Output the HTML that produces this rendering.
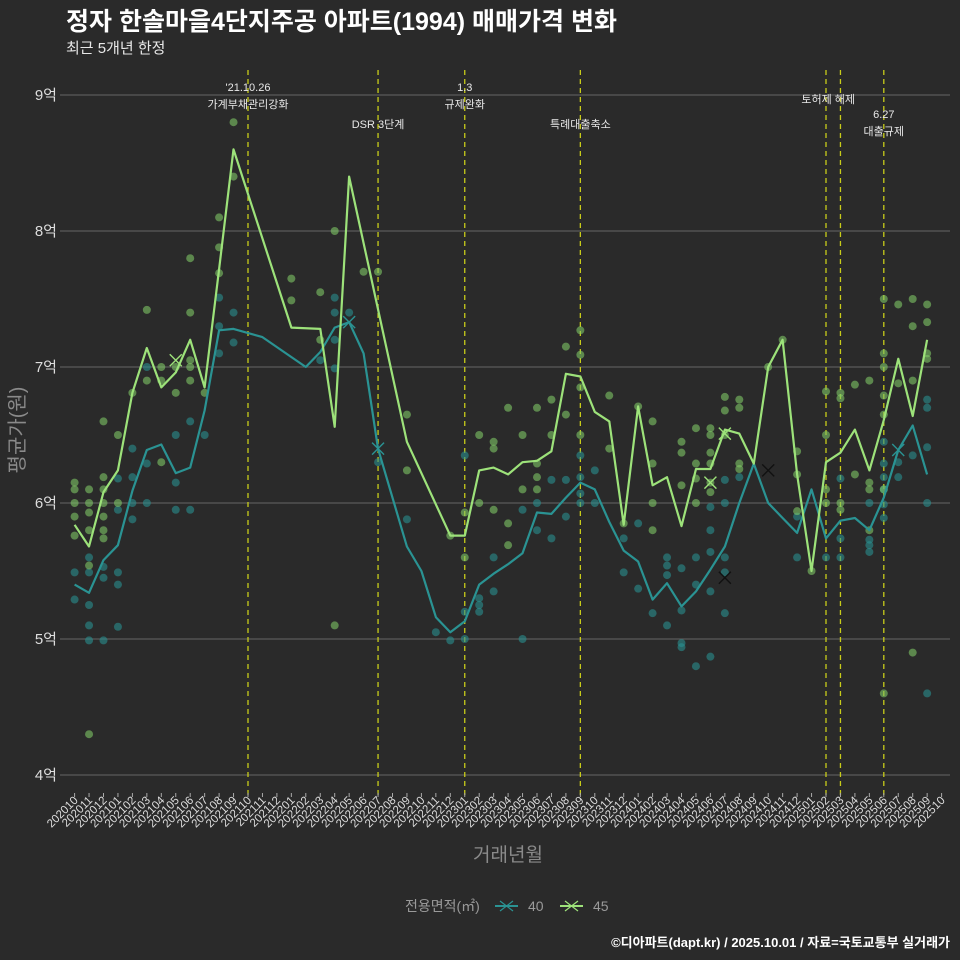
<!DOCTYPE html>
<html><head><meta charset="utf-8"><style>
html,body{margin:0;padding:0;background:#2a2a2a;}
svg{display:block;font-family:"Liberation Sans","Noto Sans CJK KR",sans-serif;}
</style></head><body>
<svg id="chart" width="960" height="960" viewBox="0 0 960 960" xmlns="http://www.w3.org/2000/svg">
<rect width="960" height="960" fill="#2a2a2a"/>
<text x="66" y="30" fill="#ffffff" font-size="25" font-weight="bold">정자 한솔마을4단지주공 아파트(1994) 매매가격 변화</text>
<text x="66" y="53" fill="#e8e8e8" font-size="15">최근 5개년 한정</text>
<g id="grid"></g><g id="vlines"></g><g id="dots"></g><g id="lines"></g><g id="xaxis"></g><g id="yaxis"></g><g id="notes"></g>
<text transform="translate(24,430) rotate(-90)" text-anchor="middle" fill="#8a8a8a" font-size="20">평균가(원)</text>
<text x="508" y="861" text-anchor="middle" fill="#8a8a8a" font-size="19">거래년월</text>
<g>
<text x="405" y="911" fill="#9a9a9a" font-size="14">전용면적(㎡)</text>
<g><line x1="495" y1="906" x2="518" y2="906" stroke="#2a9393" stroke-width="2"/><path d="M500 901 L513 911 M513 901 L500 911" stroke="#2a9393" stroke-width="1.2"/><text x="528" y="911" fill="#9a9a9a" font-size="14">40</text></g>
<g><line x1="560" y1="906" x2="583" y2="906" stroke="#9de27a" stroke-width="2"/><path d="M565 901 L578 911 M578 901 L565 911" stroke="#9de27a" stroke-width="1.2"/><text x="593" y="911" fill="#9a9a9a" font-size="14">45</text></g>
</g>
<text x="950" y="947" text-anchor="end" fill="#ffffff" font-size="13" font-weight="bold">©디아파트(dapt.kr) / 2025.10.01 / 자료=국토교통부 실거래가</text>
</svg>
<script>
const yTicks=[4,5,6,7,8,9];
const monthCount=61;
const line45=[5.84,5.68,6.08,6.24,6.81,7.14,6.85,6.96,7.20,6.85,7.72,8.60,null,null,null,7.29,null,7.28,6.56,8.40,null,null,null,6.45,null,null,5.76,5.76,6.24,6.26,6.21,6.30,6.31,6.38,6.95,6.93,6.67,6.60,5.84,6.71,6.13,6.19,5.83,6.25,6.25,6.54,6.51,6.29,7.00,7.20,6.21,5.50,6.30,6.37,6.54,6.24,6.61,7.06,6.64,7.20];
const line40=[5.40,5.34,5.58,5.69,6.09,6.39,6.43,6.22,6.26,6.68,7.27,7.28,null,7.22,null,null,7.00,7.11,7.29,7.33,7.10,6.40,null,5.68,5.50,5.16,5.05,5.13,5.40,5.48,5.55,5.63,5.93,5.92,6.04,6.15,6.10,5.86,5.65,5.57,5.29,5.41,5.24,5.35,5.51,5.68,6.00,6.29,6.00,5.89,5.78,6.10,5.74,5.87,5.89,5.80,6.04,6.39,6.57,6.21];
const dots45=[[0,6.15],[0,6.10],[0,6.0],[0,5.90],[0,5.76],[1,6.10],[1,6.0],[1,5.93],[1,5.80],[1,5.54],[1,4.3],[2,6.6],[2,6.19],[2,6.1],[2,6.0],[2,5.9],[2,5.8],[2,5.74],[3,6.5],[3,6.0],[4,6.81],[5,7.42],[5,6.9],[6,7.0],[6,6.9],[6,6.3],[7,6.81],[7,7.0],[8,7.8],[8,7.4],[8,7.05],[8,7.0],[8,6.9],[9,6.81],[10,8.1],[10,7.88],[10,7.69],[11,8.4],[11,8.8],[15,7.65],[15,7.49],[17,7.2],[17,7.55],[18,8.0],[18,5.1],[20,7.7],[21,7.7],[23,6.65],[23,6.24],[26,5.76],[27,5.93],[27,5.6],[28,6.5],[28,6.0],[29,6.45],[29,6.4],[29,5.95],[30,6.7],[30,5.85],[30,5.69],[31,6.5],[31,6.1],[32,6.7],[32,6.29],[32,6.19],[32,6.1],[33,6.76],[33,6.5],[34,7.15],[34,6.65],[35,7.27],[35,7.09],[35,6.85],[35,6.5],[37,6.79],[37,6.4],[38,5.85],[39,6.71],[40,6.6],[40,6.29],[40,6.0],[40,5.8],[42,6.45],[42,6.37],[42,6.13],[43,6.55],[43,6.29],[43,6.18],[43,6.0],[44,6.55],[44,6.5],[44,6.37],[44,6.29],[44,6.15],[44,6.08],[45,6.78],[45,6.68],[45,6.5],[46,6.76],[46,6.7],[46,6.29],[46,6.25],[48,7.0],[49,7.2],[50,6.38],[50,6.21],[50,5.94],[51,5.5],[52,6.82],[52,6.5],[52,6.1],[52,6.0],[53,6.81],[53,6.77],[53,6.0],[53,5.95],[54,6.87],[54,6.21],[55,6.9],[55,6.15],[55,6.1],[55,5.8],[56,7.5],[56,7.1],[56,7.0],[56,6.79],[56,6.65],[56,6.1],[56,4.6],[57,7.46],[57,6.88],[58,7.5],[58,7.3],[58,6.9],[58,4.9],[59,7.46],[59,7.33],[59,7.1],[59,7.06]];
const dots40=[[0,5.49],[0,5.29],[1,5.6],[1,5.49],[1,5.25],[1,5.1],[1,4.99],[2,5.53],[2,5.45],[2,4.99],[3,6.18],[3,5.95],[3,5.49],[3,5.4],[3,5.09],[4,6.4],[4,6.19],[4,6.0],[4,5.88],[5,7.0],[5,6.29],[5,6.0],[7,6.5],[7,6.15],[7,5.95],[8,6.6],[8,5.95],[9,6.5],[10,7.51],[10,7.3],[10,7.1],[11,7.4],[11,7.18],[17,7.05],[18,7.51],[18,7.4],[18,7.2],[18,6.99],[19,7.4],[21,6.3],[23,5.88],[25,5.05],[26,4.99],[27,6.35],[27,5.2],[27,5.0],[28,5.3],[28,5.25],[28,5.2],[29,5.6],[29,5.35],[31,5.95],[31,5.0],[32,6.0],[32,5.8],[33,6.17],[33,5.74],[34,6.17],[34,5.9],[35,6.35],[35,6.19],[35,6.07],[35,6.0],[36,6.24],[36,6.0],[38,5.74],[38,5.49],[39,5.85],[39,5.37],[40,5.19],[41,5.6],[41,5.54],[41,5.47],[41,5.1],[42,5.52],[42,5.21],[42,4.97],[42,4.94],[43,5.6],[43,5.4],[43,4.8],[44,5.97],[44,5.8],[44,5.64],[44,5.35],[44,4.87],[45,6.17],[45,6.0],[45,5.6],[45,5.49],[45,5.19],[46,6.19],[50,5.9],[50,5.6],[52,5.6],[53,6.18],[53,5.74],[53,5.6],[55,6.0],[55,5.73],[55,5.69],[55,5.64],[56,6.45],[56,6.29],[56,6.19],[56,6.1],[56,5.99],[56,5.89],[57,6.3],[57,6.19],[58,6.35],[59,6.76],[59,6.7],[59,6.41],[59,6.0],[59,4.6]];
const crosses=[[7,7.05,"#9de27a"],[19,7.33,"#2a9393"],[21,6.40,"#2a9393"],[44,6.15,"#9de27a"],[45,6.51,"#9de27a"],[45,5.45,"#111"],[48,6.24,"#111"],[57,6.39,"#2a9393"]];
const eventMonths=[12,21,27,35,52,53,56];
const noteLines=[[12,"'21.10.26",91],[12,"가계부채관리강화",108],[21,"DSR 3단계",128],[27,"1.3",91],[27,"규제완화",108],[35,"특례대출축소",128],[52.15,"토허제 해제",103],[56,"6.27",118],[56,"대출규제",135]];

const NS="http://www.w3.org/2000/svg";
const X0=74.6,DX=14.45,Y9=95,PX=136;
function xs(i){return X0+DX*i;}
function ys(v){return Y9+(9-v)*PX;}
function mk(tag,attrs,parent){const e=document.createElementNS(NS,tag);for(const k in attrs)e.setAttribute(k,attrs[k]);parent.appendChild(e);return e;}
const G=id=>document.getElementById(id);
yTicks.forEach(v=>{
  const l=mk('line',{x1:60,x2:950,y1:ys(v),y2:ys(v),stroke:'#666666','stroke-width':1},G('grid'));
  
  
  const t=mk('text',{x:57,y:ys(v)+5,'text-anchor':'end',fill:'#dddddd','font-size':15},G('yaxis'));
  t.textContent=v+'억';
  
  
});
for(let i=0;i<monthCount;i++){
  const y=2020+Math.floor((9+i)/12), m=((9+i)%12)+1;
  const lab=y+''+(m<10?'0':'')+m;
  const x=xs(i);
  mk('line',{x1:x,x2:x,y1:793,y2:797,stroke:'#aaa','stroke-width':1},G('xaxis'));
  const t=mk('text',{transform:`translate(${x+4},${801}) rotate(-45)`,'text-anchor':'end',fill:'#dddddd','font-size':11.5},G('xaxis'));
  t.textContent=lab;
  
  
}
eventMonths.forEach(i=>{
  const l=mk('line',{x1:xs(i),x2:xs(i),y1:70,y2:795,stroke:'#c8cc1a','stroke-width':1.3,'stroke-dasharray':'5,4'},G('vlines'));
  
  
});
noteLines.forEach(n=>{
  const t=mk('text',{x:xs(n[0]),y:n[2],'text-anchor':'middle',fill:'#e8e8e8','font-size':11},G('notes'));
  t.textContent=n[1];
  
  
});
function drawDots(arr,col,name){
  arr.forEach(d=>{
    const c=mk('circle',{cx:xs(d[0]),cy:ys(d[1]),r:4,fill:col,'fill-opacity':0.6},G('dots'));
    
    
  });
}
drawDots(dots40,'#2a8f8f','dot-40');
drawDots(dots45,'#7fc765','dot-45');
function drawLine(arr,col,name){
  let d='',pen=false;
  arr.forEach((v,i)=>{ if(v==null){return;} d+=(pen?'L':'M')+xs(i).toFixed(1)+' '+ys(v).toFixed(1)+' '; pen=true;});
  const p=mk('path',{d:d,fill:'none',stroke:col,'stroke-width':2.2,'stroke-linejoin':'round'},G('lines'));
  
  
}
drawLine(line40,'#2a9393','line-40');
drawLine(line45,'#9de27a','line-45');
crosses.forEach(c=>{
  const x=xs(c[0]),y=ys(c[1]);
  const p=mk('path',{d:`M${x-6} ${y-6}L${x+6} ${y+6}M${x+6} ${y-6}L${x-6} ${y+6}`,stroke:c[2],'stroke-width':1.4},G('lines'));
  
  
});
</script>
</body></html>
